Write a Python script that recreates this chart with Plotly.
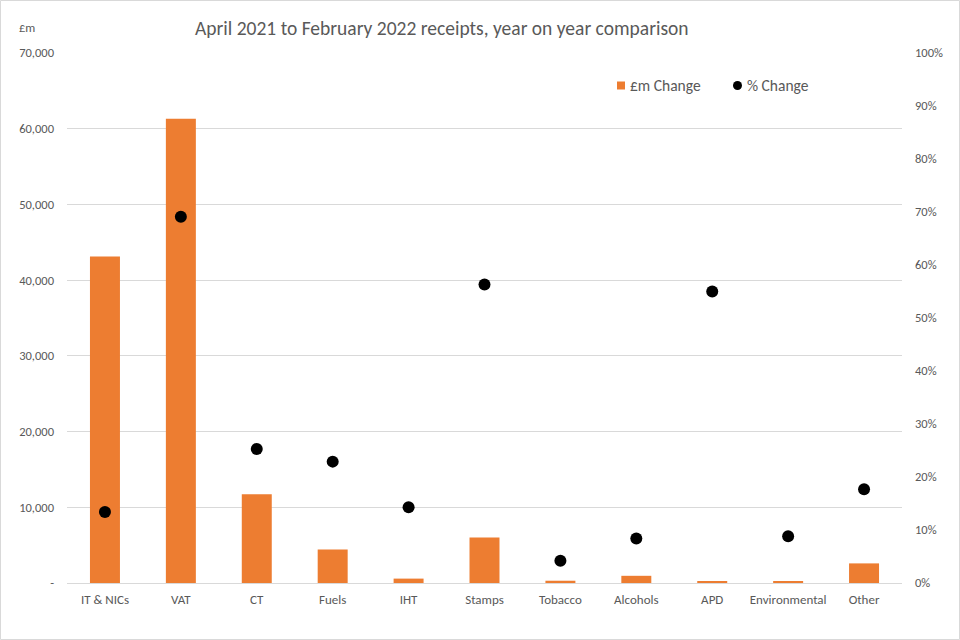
import plotly.graph_objects as go

categories = ["IT & NICs", "VAT", "CT", "Fuels", "IHT", "Stamps", "Tobacco",
              "Alcohols", "APD", "Environmental", "Other"]
gbp_change = [43130, 61330, 11730, 4410, 580, 6000, 300, 950, 210, 150, 2590]
pct_change = [0.134, 0.691, 0.253, 0.229, 0.143, 0.563, 0.042, 0.084, 0.550, 0.088, 0.177]

left_ticks = [0, 10000, 20000, 30000, 40000, 50000, 60000, 70000]
left_labels = ["-", "10,000", "20,000", "30,000", "40,000", "50,000", "60,000", "70,000"]

FONT = "Calibri, Carlito, Lato, sans-serif"
GREY = "#595959"
ORANGE = "#ED7D31"

fig = go.Figure()
fig.add_trace(go.Bar(x=categories, y=gbp_change, name="£m Change",
                     marker=dict(color=ORANGE, line=dict(width=0))))
fig.add_trace(go.Scatter(x=categories, y=pct_change, name="% Change", yaxis="y2",
                         mode="markers", marker=dict(color="black", size=12)))

L, R, T, B = 67, 58, 53, 57
W, H = 960, 640
pw, ph = W - L - R, H - T - B


def px(x):
    return (x - L) / pw


def py(y):
    return (H - B - y) / ph


fig.update_layout(
    width=W, height=H,
    margin=dict(l=L, r=R, t=T, b=B),
    paper_bgcolor="white", plot_bgcolor="white",
    font=dict(family=FONT, size=12, color=GREY),
    bargap=0.605,
    showlegend=False,
    xaxis=dict(range=[-0.5, len(categories) - 0.5], showgrid=False, showline=True,
               linecolor="#d9d9d9", linewidth=1, ticks="", ticklabelstandoff=4,
               tickfont=dict(size=13, color=GREY)),
    yaxis=dict(range=[0, 70000], tickvals=left_ticks, ticktext=left_labels,
               showgrid=True, gridcolor="#d9d9d9", gridwidth=1, zeroline=False,
               ticks="", ticklabelstandoff=12, tickfont=dict(size=12.5, color=GREY)),
    yaxis2=dict(range=[0, 1], overlaying="y", side="right", tickformat=".0%",
                dtick=0.1, tick0=0, showgrid=False, zeroline=False, ticks="",
                ticklabelstandoff=12, tickfont=dict(size=12.5, color=GREY)),
    annotations=[
        dict(text="April 2021 to February 2022 receipts, year on year comparison",
             x=px(442), y=py(28), xref="paper", yref="paper", showarrow=False,
             xanchor="center", yanchor="middle", font=dict(size=19.5, color=GREY)),
        dict(text="£m", x=px(27), y=py(27), xref="paper", yref="paper", showarrow=False,
             xanchor="center", yanchor="middle", font=dict(size=12.5, color=GREY)),
        # legend entries (names match the trace names)
        dict(text=fig.data[0].name, x=px(628), y=py(85), xref="paper", yref="paper",
             showarrow=False, xanchor="left", yanchor="middle",
             font=dict(size=15.5, color=GREY)),
        dict(text=fig.data[1].name, x=px(745), y=py(85), xref="paper", yref="paper",
             showarrow=False, xanchor="left", yanchor="middle",
             font=dict(size=15.5, color=GREY)),
    ],
    shapes=[
        dict(type="rect", xref="paper", yref="paper",
             x0=px(0.5), x1=px(959.5), y0=py(639.5), y1=py(0.5),
             line=dict(color="#d9d9d9", width=1), layer="below"),
        dict(type="rect", xref="paper", yref="paper",
             x0=px(617), x1=px(625), y0=py(89.5), y1=py(81.5),
             line=dict(width=0), fillcolor=ORANGE),
        dict(type="circle", xref="paper", yref="paper",
             x0=px(733), x1=px(742), y0=py(90), y1=py(81),
             line=dict(width=0), fillcolor="black"),
    ],
)

fig.write_html("out.html", config={"displayModeBar": False},
               post_script="document.body.style.margin='0';"
               "document.body.style.overflow='hidden';")
